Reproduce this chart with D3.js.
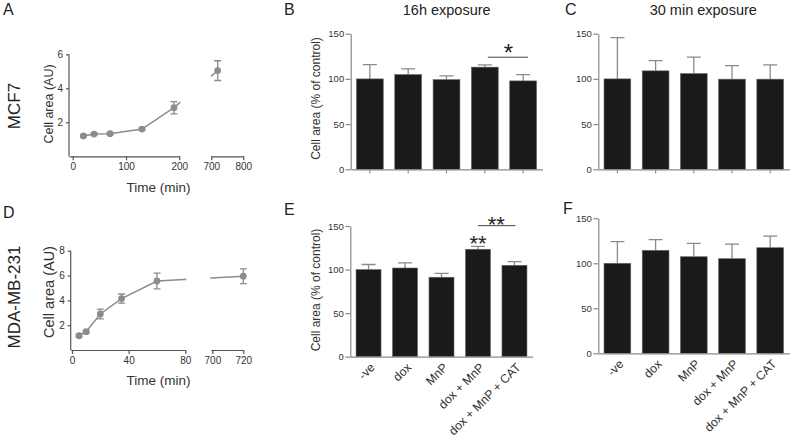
<!DOCTYPE html>
<html><head><meta charset="utf-8">
<script src="https://cdn.jsdelivr.net/npm/d3@7"></script>
<style>body{margin:0;background:#fff} text{font-family:"Liberation Sans",Arial,sans-serif}</style>
</head><body><svg id="c" width="796" height="440"></svg>
<script>
// ---------- data ----------
const timeA = [20, 40, 70, 130, 190, 720];
const areaA = [1.2, 1.31, 1.33, 1.6, 2.86, 5.04];
const errA  = [0.06, 0.06, 0.06, 0.07, 0.36, 0.58];
const timeD = [5, 10, 20, 35, 60, 720];
const areaD = [1.15, 1.48, 2.9, 4.14, 5.56, 5.94];
const errD  = [0.1, 0.12, 0.4, 0.37, 0.64, 0.6];
const ticksAX1 = [0, 100, 200], ticksAX2 = [700, 800];
const ticksDX1 = [0, 40, 80],   ticksDX2 = [700, 720];
const ticksAY = [2, 4, 6], ticksDY = [2, 4, 6, 8];

const categories = ["-ve", "dox", "MnP", "dox + MnP", "dox + MnP + CAT"];
const valsB = [100, 104.8, 99.2, 113, 97.8];
const errsB = [15.8, 6.2, 4.1, 2.5, 7];
const valsC = [100, 108.9, 105.9, 99.7, 99.7];
const errsC = [45.7, 11.4, 18.1, 15, 15.8];
const valsE = [100, 101.8, 91.2, 123.3, 104.9];
const errsE = [5.8, 5.8, 4.5, 3.4, 4.1];
const valsF = [100, 114.4, 107.3, 105.1, 117.3];
const errsF = [24, 11.8, 14.9, 16.3, 13];
const ticksBar = [0, 50, 100, 150];

// ---------- style ----------
const svg = d3.select("#c");
const LINE = "#8c8c8c", AX_L = "#555", AX_B = "#8a8a8a", TXT = "#333", BAR = "#1a1a1a", ERR = "#8a8a8a";
const fmt = d3.format("d");

function styleAxis(g, col, fs) {
  g.selectAll("path,line").attr("stroke", col).attr("stroke-width", 1.2);
  g.selectAll("text").attr("fill", TXT).attr("font-size", fs).attr("font-family", "Liberation Sans, Arial, sans-serif");
}

// ---------- line panels ----------
function linePanel(c) {
  const g = svg.append("g");
  const y = d3.scaleLinear().domain(c.yDomain).range(c.yRange);
  const s1 = d3.scaleLinear().domain(c.x1Domain).range(c.x1Range);
  const s2 = d3.scaleLinear().domain(c.x2Domain).range(c.x2Range);
  const x = t => t >= c.x2Domain[0] ? s2(t) : s1(t);
  const y0 = c.yRange[0];

  const ay = g.append("g").attr("transform", `translate(${c.x1Range[0]},0)`)
    .call(d3.axisLeft(y).tickValues(c.yTicks).tickFormat(fmt).tickSize(3).tickPadding(3).tickSizeOuter(0));
  ay.select("path").attr("d", `M0,${c.yRange[1]}V${y0}`);
  styleAxis(ay, AX_L, 10);
  const ax1 = g.append("g").attr("transform", `translate(0,${y0})`)
    .call(d3.axisBottom(s1).tickValues(c.x1Ticks).tickFormat(fmt).tickSize(4).tickPadding(3).tickSizeOuter(0));
  styleAxis(ax1, AX_L, 10);
  const ax2 = g.append("g").attr("transform", `translate(0,${y0})`)
    .call(d3.axisBottom(s2).tickValues(c.x2Ticks).tickFormat(fmt).tickSize(4).tickPadding(3).tickSizeOuter(0));
  styleAxis(ax2, AX_L, 10);

  const id = "clip" + c.id;
  const cp = svg.append("defs").append("clipPath").attr("id", id);
  cp.append("rect").attr("x", c.x1Range[0]).attr("y", 0).attr("width", c.x1Range[1] + 1 - c.x1Range[0]).attr("height", 440);
  cp.append("rect").attr("x", c.x2Range[0] - 0.5).attr("y", 0).attr("width", 60).attr("height", 440);

  const pts = c.t.map((t, i) => [x(t), y(c.v[i])]);
  g.append("path").attr("d", d3.line()(pts)).attr("fill", "none").attr("stroke", LINE)
    .attr("stroke-width", 1.5).attr("clip-path", `url(#${id})`);
  c.t.forEach((t, i) => {
    const cx = x(t), hi = y(c.v[i] + c.e[i]), lo = y(c.v[i] - c.e[i]);
    g.append("path").attr("d", `M${cx},${hi}V${lo}M${cx - 3.5},${hi}H${cx + 3.5}M${cx - 3.5},${lo}H${cx + 3.5}`)
      .attr("stroke", LINE).attr("stroke-width", 1.3).attr("fill", "none");
    g.append("circle").attr("cx", cx).attr("cy", y(c.v[i])).attr("r", 3.4).attr("fill", LINE);
  });

  g.append("text").attr("transform", `translate(${c.ytX},${c.ytY}) rotate(-90)`).attr("text-anchor", "middle")
    .attr("dy", "0.35em").attr("font-size", c.ytFs).attr("fill", TXT).text("Cell area (AU)");
  g.append("text").attr("x", 158.5).attr("y", c.xtY).attr("text-anchor", "middle")
    .attr("font-size", 13.5).attr("fill", TXT).text("Time (min)");
}

linePanel({ id: "A", yDomain: [0, 6], yRange: [156.3, 54.3], yTicks: ticksAY,
  x1Domain: [-7, 200], x1Range: [69, 179.3], x1Ticks: ticksAX1,
  x2Domain: [700, 800], x2Range: [211.3, 243.3], x2Ticks: ticksAX2,
  t: timeA, v: areaA, e: errA, ytX: 48.5, ytY: 104, ytFs: 12.5, xtY: 191.5 });
linePanel({ id: "D", yDomain: [0, 8], yRange: [350, 250.7], yTicks: ticksDY,
  x1Domain: [-0.9, 80], x1Range: [70.7, 185.3], x1Ticks: ticksDX1,
  x2Domain: [699, 720], x2Range: [210.8, 243.3], x2Ticks: ticksDX2,
  t: timeD, v: areaD, e: errD, ytX: 48.5, ytY: 292, ytFs: 14.5, xtY: 385 });

// ---------- bar panels ----------
function barPanel(c) {
  const g = svg.append("g");
  const x = d3.scaleBand().domain(categories).range(c.xRange).paddingInner(c.pad).paddingOuter(c.pad / 2);
  const y = d3.scaleLinear().domain([0, 150]).range(c.yRange);
  const y0 = c.yRange[0];

  c.vals.forEach((v, i) => {
    const cx = x(categories[i]) + x.bandwidth() / 2;
    const top = y(v), et = y(v + c.errs[i]);
    g.append("path").attr("d", `M${cx},${top}V${et}M${cx - 7},${et}H${cx + 7}`)
      .attr("stroke", ERR).attr("stroke-width", 1.3).attr("fill", "none");
  });
  g.selectAll("rect.bar").data(c.vals).join("rect").attr("class", "bar")
    .attr("x", (d, i) => x(categories[i])).attr("width", x.bandwidth())
    .attr("y", d => y(d)).attr("height", d => y0 - y(d))
    .attr("fill", BAR).attr("stroke", "#666").attr("stroke-width", 0.6);

  const ay = g.append("g").attr("transform", `translate(${c.xRange[0]},0)`)
    .call(d3.axisLeft(y).tickValues(ticksBar).tickFormat(fmt).tickSize(5).tickPadding(1.5).tickSizeOuter(0));
  styleAxis(ay, AX_B, 9.5);
  const ax = g.append("g").attr("transform", `translate(0,${y0})`)
    .call(d3.axisBottom(x).tickSize(c.labels ? 0 : 4).tickSizeOuter(0));
  styleAxis(ax, AX_B, 12.2);
  if (c.labels) {
    ax.selectAll("text").attr("text-anchor", "end").attr("dy", null).attr("y", null)
      .attr("transform", "translate(7,11.5) rotate(-45)").attr("fill", TXT);
  } else {
    ax.selectAll("text").remove();
  }
  if (c.ytitle) {
    g.append("text").attr("transform", `translate(316,${c.ytY}) rotate(-90)`).attr("text-anchor", "middle")
      .attr("dy", "0.35em").attr("font-size", 12).attr("fill", TXT).text("Cell area (% of control)");
  }
  return { x, y };
}

const B = barPanel({ xRange: [350.7, 542.3], pad: 0.3, yRange: [169.3, 33.7], vals: valsB, errs: errsB, labels: false, ytitle: true, ytY: 98.5 });
barPanel({ xRange: [598.3, 789.3], pad: 0.3, yRange: [169.3, 33.7], vals: valsC, errs: errsC, labels: false, ytitle: false });
const E = barPanel({ xRange: [350.3, 532.7], pad: 0.315, yRange: [356.7, 226], vals: valsE, errs: errsE, labels: true, ytitle: true, ytY: 290 });
barPanel({ xRange: [598.3, 789.3], pad: 0.3, yRange: [353.3, 218.3], vals: valsF, errs: errsF, labels: true, ytitle: false });

// significance marks
function center(s, k) { return s.x(categories[k]) + s.x.bandwidth() / 2; }
svg.append("line").attr("x1", center(B, 3) + 3).attr("x2", center(B, 4) + 5)
  .attr("y1", B.y(124)).attr("y2", B.y(124)).attr("stroke", "#444").attr("stroke-width", 1);
svg.append("text").attr("x", (center(B, 3) + center(B, 4)) / 2 + 4.5).attr("y", 61).attr("text-anchor", "middle")
  .attr("font-size", 24).attr("fill", "#222").text("*");
svg.append("line").attr("x1", center(E, 3)).attr("x2", center(E, 4) + 1)
  .attr("y1", E.y(150.4)).attr("y2", E.y(150.4)).attr("stroke", "#444").attr("stroke-width", 1);
svg.append("text").attr("x", (center(E, 3) + center(E, 4)) / 2).attr("y", 232).attr("text-anchor", "middle")
  .attr("font-size", 22).attr("fill", "#222").text("**");
svg.append("text").attr("x", center(E, 3)).attr("y", 250.5).attr("text-anchor", "middle")
  .attr("font-size", 22).attr("fill", "#222").text("**");

// titles and labels
const T = (x, y, s, fs, opt = {}) => svg.append("text").attr("x", x).attr("y", y).attr("font-size", fs)
  .attr("fill", "#222").attr("text-anchor", opt.anchor || "start").text(s);
T(446.7, 15, "16h exposure", 14.5, { anchor: "middle" });
T(703.3, 15, "30 min exposure", 14.5, { anchor: "middle" });
T(3, 15, "A", 16); T(284, 15, "B", 16); T(565, 15, "C", 16);
T(3, 218, "D", 16); T(284, 215, "E", 16); T(563, 213.5, "F", 16);
svg.append("text").attr("transform", "translate(14,106) rotate(-90)").attr("text-anchor", "middle")
  .attr("dy", "0.35em").attr("font-size", 17).attr("fill", "#222").text("MCF7");
svg.append("text").attr("transform", "translate(14,297) rotate(-90)").attr("text-anchor", "middle")
  .attr("dy", "0.35em").attr("font-size", 17).attr("fill", "#222").text("MDA-MB-231");
</script></body></html>
